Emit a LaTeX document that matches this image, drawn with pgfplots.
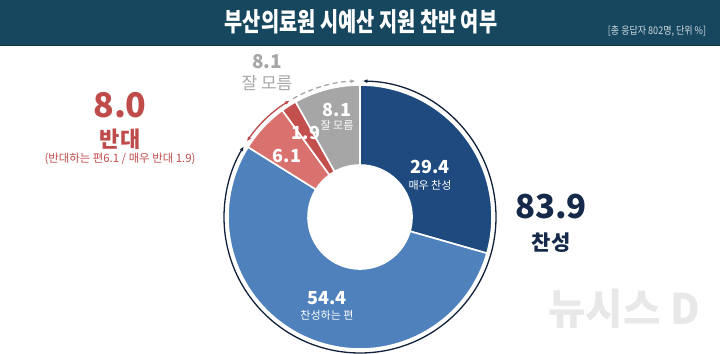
\documentclass[border=0pt]{standalone}
\usepackage{pgfplots}
\usepackage{pgfplotstable}
\pgfplotsset{compat=1.18}
\usetikzlibrary{arrows.meta}
\usepackage{fontspec}
\setmainfont{Noto Sans CJK KR}
\definecolor{cA}{HTML}{1F4A80}
\definecolor{cB}{HTML}{4F81BD}
\definecolor{cC}{HTML}{D9726E}
\definecolor{cD}{HTML}{C4504D}
\definecolor{cE}{HTML}{A6A6A6}
\definecolor{hdr}{HTML}{16475F}
\definecolor{navytxt}{HTML}{15294A}
\definecolor{redtxt}{HTML}{BF4B4B}
\pgfplotstableread{
label value color
A 29.4 cA
B 54.4 cB
C 6.1 cC
D 1.9 cD
E 8.1 cE
}\piedata
\newcommand{\fs}[1]{\fontsize{#1bp}{#1bp}\selectfont}
\begin{document}
\begin{tikzpicture}
\begin{axis}[
  width=720bp, height=353bp, scale only axis,
  xmin=-360, xmax=360, ymin=-136, ymax=217,
  axis lines=none, ticks=none, clip=false,
]
% header band
\fill[hdr] (axis cs:-360,217) rectangle (axis cs:360,171.5);
\draw[hdr!70!black, line width=0.8bp] (axis cs:-360,171.8) -- (axis cs:360,171.8);
\node[white, font=\bfseries\fs{26}, xscale=0.76] at (axis cs:1,195) {부산의료원 시예산 지원 찬반 여부};
\node[white!80!hdr, font=\fs{10.5}, xscale=0.86] at (axis cs:297,186) {[총 응답자 802명, 단위 \%]};
% donut
\pgfplotstablegetrowsof{\piedata}
\pgfmathtruncatemacro\N{\pgfplotsretval-1}
\def\cum{0}
\pgfplotsforeachungrouped \i in {0,...,\N}{%
  \pgfplotstablegetelem{\i}{value}\of\piedata \let\v\pgfplotsretval
  \pgfplotstablegetelem{\i}{color}\of\piedata \let\c\pgfplotsretval
  \pgfmathsetmacro\aone{90-\cum/99.9*360}%
  \pgfmathsetmacro\cum{\cum+\v}%
  \pgfmathsetmacro\atwo{90-\cum/99.9*360}%
  \edef\temp{\noexpand\filldraw[fill=\c, draw=white, line width=1.6bp]
    (axis cs:{52*cos(\aone)},{52*sin(\aone)}) -- (axis cs:{132*cos(\aone)},{132*sin(\aone)})
    arc[start angle=\aone, end angle=\atwo, radius=132bp]
    -- (axis cs:{52*cos(\atwo)},{52*sin(\atwo)})
    arc[start angle=\atwo, end angle=\aone, radius=52bp] -- cycle;}%
  \temp
}
% outer arcs
\draw[navytxt!80!black, line width=1.3bp, {Latex[length=4.5bp,width=4bp]}-{Latex[length=4.5bp,width=4bp]}]
  (axis cs:{136*cos(88.8)},{136*sin(88.8)}) arc[start angle=88.8, end angle=-211.2, radius=136bp];
\draw[redtxt, line width=1.3bp, {Latex[length=4.5bp,width=4bp]}-{Latex[length=4.5bp,width=4bp]}]
  (axis cs:{136*cos(146.2)},{136*sin(146.2)}) arc[start angle=146.2, end angle=121.2, radius=136bp];
\draw[cE, line width=1.3bp, dash pattern=on 5bp off 3.5bp, -{Latex[length=4.5bp,width=4bp]}]
  (axis cs:{136*cos(119.5)},{136*sin(119.5)}) arc[start angle=119.5, end angle=92, radius=136bp];
% slice labels
\node[white, font=\bfseries\fs{18}] at (axis cs:70,50) {29.4};
\node[white, font=\fs{11}] at (axis cs:70,32) {매우 찬성};
\node[white, font=\bfseries\fs{18}] at (axis cs:-33,-81) {54.4};
\node[white, font=\fs{11}] at (axis cs:-33,-98) {찬성하는 편};
\node[white, font=\bfseries\fs{18}] at (axis cs:-73,61) {6.1};
\node[white, font=\bfseries\fs{18}] at (axis cs:-54,84) {1.9};
\node[white, font=\bfseries\fs{18}] at (axis cs:-23,107) {8.1};
\node[white, font=\fs{11}] at (axis cs:-23,92) {잘 모름};
% outside labels
\node[cE, font=\bfseries\fs{19}] at (axis cs:-93,155) {8.1};
\node[cE, font=\fs{17}] at (axis cs:-93,134) {잘 모름};
\node[redtxt, font=\bfseries\fs{34}] at (axis cs:-240,112) {8.0};
\node[redtxt, font=\bfseries\fs{22}] at (axis cs:-240,78) {반대};
\node[redtxt, font=\fs{11.4}] at (axis cs:-240,58) {(반대하는 편6.1 / 매우 반대 1.9)};
\node[navytxt, font=\bfseries\fs{33}] at (axis cs:191,10) {83.9};
\node[navytxt, font=\bfseries\fs{21}] at (axis cs:191,-26) {찬성};
% watermark
\node[black!9, font=\bfseries\fs{42}, xscale=0.97] at (axis cs:264,-92) {뉴시스 D};
\end{axis}
\pgfresetboundingbox
\useasboundingbox (current axis.south west) rectangle (current axis.north east);
\end{tikzpicture}
\end{document}
